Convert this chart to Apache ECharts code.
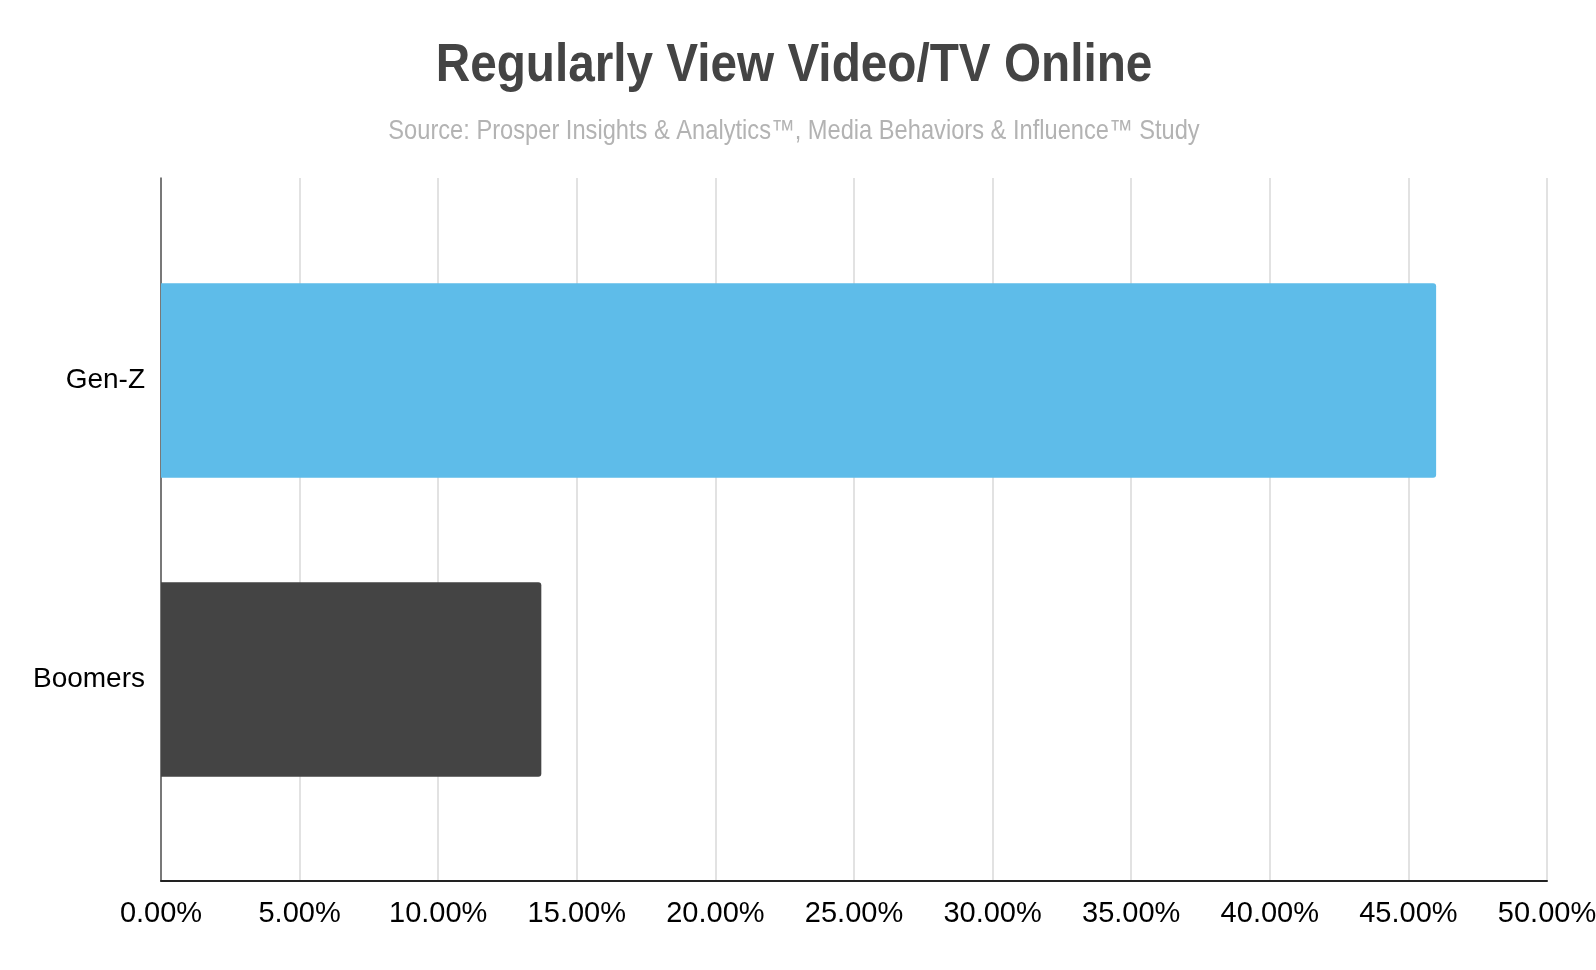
<!DOCTYPE html>
<html>
<head>
<meta charset="utf-8">
<script src="https://cdn.jsdelivr.net/npm/echarts@6/dist/echarts.min.js"></script>
<style>
html,body{margin:0;padding:0;background:#fff;}
#chart{width:1596px;height:970px;}
</style>
</head>
<body>
<div id="chart"></div>
<script>
const categories = ['Gen-Z', 'Boomers'];
const values = [0.46, 0.1372];
const barColors = ['#5EBCE9', '#444444'];
const xTicks = [0, 0.05, 0.10, 0.15, 0.20, 0.25, 0.30, 0.35, 0.40, 0.45, 0.50];
const titleText = 'Regularly View Video/TV Online';
const subtitleText = 'Source: Prosper Insights & Analytics™, Media Behaviors & Influence™ Study';

const FONT = "'Liberation Sans Narrow', 'Arial Narrow', 'Liberation Sans', Arial, sans-serif";
const chart = echarts.init(document.getElementById('chart'), null, {renderer: 'canvas'});

const option = {
  backgroundColor: '#ffffff',
  animation: false,
  graphic: [{
    type: 'text',
    x: 794, y: 66,
    scaleX: 0.9,
    style: {
      text: titleText,
      fontFamily: FONT, fontWeight: 'bold', fontSize: 53,
      fill: '#444444', textAlign: 'center', textVerticalAlign: 'middle'
    }
  }, {
    type: 'text',
    x: 794, y: 131,
    scaleX: 0.845,
    style: {
      text: subtitleText,
      fontFamily: FONT, fontWeight: 'normal', fontSize: 28,
      fill: '#b3b3b3', textAlign: 'center', textVerticalAlign: 'middle'
    }
  }],
  grid: [
    {left: 161, right: 49, top: 178, bottom: 89, containLabel: false, outerBoundsMode: 'none'},
    {left: 161, right: 49, top: 231, bottom: 141, containLabel: false, outerBoundsMode: 'none'}
  ],
  xAxis: [{
    gridIndex: 0,
    type: 'value',
    min: xTicks[0],
    max: xTicks[xTicks.length - 1],
    interval: xTicks[1] - xTicks[0],
    axisLine: {show: true, lineStyle: {color: '#222222', width: 2}},
    axisTick: {show: false},
    splitLine: {show: true, lineStyle: {color: '#d9d9d9', width: 1.5}},
    axisLabel: {
      fontFamily: FONT, fontSize: 29, color: '#000000', margin: 18,
      formatter: v => (v * 100).toFixed(2) + '%'
    }
  }, {
    gridIndex: 1,
    type: 'value',
    min: xTicks[0],
    max: xTicks[xTicks.length - 1],
    show: false
  }],
  yAxis: [{
    gridIndex: 0,
    type: 'value',
    min: 0, max: 1,
    axisLine: {show: true, lineStyle: {color: '#555555', width: 1.5}},
    axisTick: {show: false},
    axisLabel: {show: false},
    splitLine: {show: false}
  }, {
    gridIndex: 1,
    type: 'category',
    data: categories,
    inverse: true,
    axisLine: {show: false},
    axisTick: {show: false},
    splitLine: {show: false},
    axisLabel: {fontFamily: FONT, fontSize: 28, color: '#000000', margin: 16}
  }],
  series: [{
    type: 'bar',
    xAxisIndex: 1,
    yAxisIndex: 1,
    barCategoryGap: '35%',
    data: values.map((v, i) => ({value: v, itemStyle: {color: barColors[i], borderRadius: [0, 3, 3, 0]}}))
  }]
};
chart.setOption(option);
</script>
</body>
</html>
